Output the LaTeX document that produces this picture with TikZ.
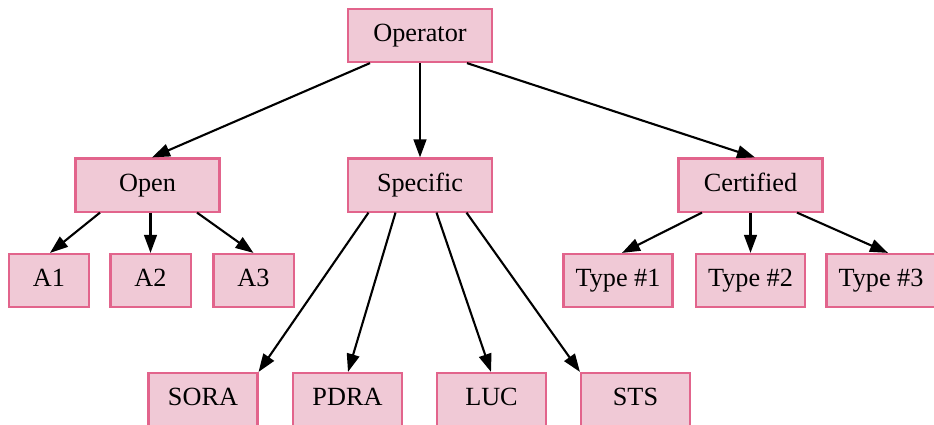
\documentclass[tikz,border=0pt]{standalone}
\usepackage{fontspec}
\setmainfont{Liberation Serif}
\usetikzlibrary{arrows.meta}

\definecolor{boxfill}{RGB}{240,201,214}
\definecolor{boxline}{RGB}{226,100,140}

\begin{document}
\begin{tikzpicture}[x=0.6667pt, y=-0.6667pt,
    box/.style={draw=boxline, fill=boxfill, line width=1.4pt, inner sep=0pt,
      minimum height=35.4pt, text height=12pt, text depth=4pt,
      font=\fontsize{17.5pt}{21pt}\selectfont},
    wide/.style={box, minimum width=96pt},
    mid/.style={box, minimum width=72.7pt},
    small/.style={box, minimum width=53.4pt},
    arr/.style={-{Triangle[length=12pt, width=8.5pt]}, line width=1.4pt}]

  \useasboundingbox (0,0) rectangle (934,424);

  % top
  \node[wide] (op) at (420,35.5) {Operator};

  % categories
  \node[wide] (open) at (147.5,185) {Open};
  \node[wide] (spec) at (420,185) {Specific};
  \node[wide] (cert) at (750.5,185) {Certified};

  % open subcategories
  \node[small] (a1) at (49,280.5) {A1};
  \node[small] (a2) at (150.5,280.5) {A2};
  \node[small] (a3) at (253.5,280.5) {A3};

  % certified types
  \node[mid] (t1) at (618,280.5) {Type \#1};
  \node[mid] (t2) at (750.5,280.5) {Type \#2};
  \node[mid] (t3) at (881,280.5) {Type \#3};

  % specific routes
  \node[mid] (sora) at (203,399.5) {SORA};
  \node[mid] (pdra) at (347.5,399.5) {PDRA};
  \node[mid] (luc) at (491.5,399.5) {LUC};
  \node[mid] (sts) at (635.5,399.5) {STS};

  \draw[arr] ([shift={(-50,0)}]op.south) -- ([shift={(4.5,0)}]open.north);
  \draw[arr] (op.south) -- (spec.north);
  \draw[arr] ([shift={(47,0)}]op.south) -- ([shift={(4.5,0)}]cert.north);

  \draw[arr] ([shift={(-47.5,0)}]open.south) -- ([shift={(1,0)}]a1.north);
  \draw[arr] ([shift={(3,0)}]open.south) -- (a2.north);
  \draw[arr] ([shift={(49.5,0)}]open.south) -- (a3.north);

  \draw[arr] ([shift={(-51.5,0)}]spec.south) -- (sora.north east);
  \draw[arr] ([shift={(-24.5,0)}]spec.south) -- ([shift={(0.5,0)}]pdra.north);
  \draw[arr] ([shift={(16.5,0)}]spec.south) -- ([shift={(-0.5,0)}]luc.north);
  \draw[arr] ([shift={(46.5,0)}]spec.south) -- (sts.north west);

  \draw[arr] ([shift={(-48.5,0)}]cert.south) -- ([shift={(4,0)}]t1.north);
  \draw[arr] (cert.south) -- (t2.north);
  \draw[arr] ([shift={(46.5,0)}]cert.south) -- ([shift={(7,0)}]t3.north);

\end{tikzpicture}
\end{document}
